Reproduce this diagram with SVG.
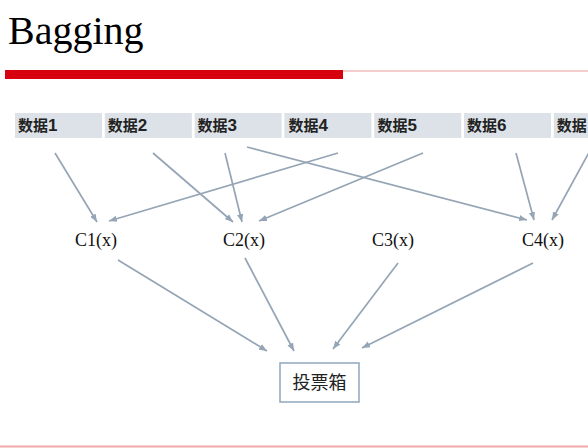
<svg xmlns="http://www.w3.org/2000/svg" width="588" height="448" viewBox="0 0 588 448">
<style>
.title{font-family:"Liberation Serif","Times New Roman",serif;font-size:40px;fill:#000}
.dbox{fill:#dde2e8}
.dtxt{font-family:"Noto Sans CJK SC","Liberation Sans",sans-serif;font-size:15px;font-weight:bold;fill:#222}
.dtxt tspan{font-family:"Liberation Sans",sans-serif;font-size:17px}
.clf{font-family:"Liberation Serif","Noto Sans CJK SC",serif;font-size:18px;fill:#111;text-anchor:middle}
.vote{fill:#fff;stroke:#8fa6bd;stroke-width:1.5}
.vtxt{font-family:"Noto Sans CJK SC",sans-serif;font-size:18px;fill:#222;text-anchor:middle}
.conn line{stroke:#95a5b5;stroke-width:1.7;marker-end:url(#ah)}
</style>
<defs>
<marker id="ah" markerUnits="userSpaceOnUse" viewBox="0 0 8 8" refX="8" refY="4" markerWidth="8" markerHeight="8" orient="auto">
<path d="M0,0.8 L8,4 L0,7.2 Z" fill="#95a5b5"/>
</marker>
</defs>
<rect width="588" height="448" fill="#fff"/>
<text class="title" x="8" y="44">Bagging</text>
<rect x="5" y="70" width="338" height="9" fill="#d7000f"/>
<line x1="343" y1="71" x2="588" y2="71" stroke="#e89a9a" stroke-width="1"/>
<line x1="0" y1="446.5" x2="588" y2="446.5" stroke="#f0a8a8" stroke-width="2"/>

<g id="d1"><rect class="dbox" x="15" y="113" width="87" height="25"/><text class="dtxt" x="18" y="131">数据<tspan>1</tspan></text></g>
<g id="d2"><rect class="dbox" x="104.8" y="113" width="87" height="25"/><text class="dtxt" x="107.8" y="131">数据<tspan>2</tspan></text></g>
<g id="d3"><rect class="dbox" x="194.6" y="113" width="87" height="25"/><text class="dtxt" x="197.6" y="131">数据<tspan>3</tspan></text></g>
<g id="d4"><rect class="dbox" x="284.4" y="113" width="87" height="25"/><text class="dtxt" x="288.4" y="131">数据<tspan>4</tspan></text></g>
<g id="d5"><rect class="dbox" x="374.2" y="113" width="87" height="25"/><text class="dtxt" x="377.6" y="131">数据<tspan>5</tspan></text></g>
<g id="d6"><rect class="dbox" x="464" y="113" width="87" height="25"/><text class="dtxt" x="467" y="131">数据<tspan>6</tspan></text></g>
<g id="d7"><rect class="dbox" x="553.8" y="113" width="87" height="25"/><text class="dtxt" x="556.8" y="131">数据</text></g>

<g id="c1"><text class="clf" x="96" y="246">C1(x)</text></g>
<g id="c2"><text class="clf" x="244" y="246">C2(x)</text></g>
<g id="c3"><text class="clf" x="393" y="246">C3(x)</text></g>
<g id="c4"><text class="clf" x="543" y="246">C4(x)</text></g>

<g id="box"><rect class="vote" x="280" y="363" width="79" height="39"/><text class="vtxt" x="319.5" y="389">投票箱</text></g>

<g class="conn">
<line x1="55" y1="153" x2="97" y2="222"/>
<line x1="153" y1="153" x2="233" y2="222"/>
<line x1="225" y1="153" x2="242" y2="222"/>
<line x1="247" y1="147" x2="527" y2="220"/>
<line x1="338" y1="153" x2="109" y2="221"/>
<line x1="423" y1="153" x2="259" y2="221"/>
<line x1="516" y1="153" x2="534" y2="220"/>
<line x1="592" y1="147" x2="552" y2="220"/>
<line x1="118" y1="260" x2="267" y2="351"/>
<line x1="245" y1="258" x2="294" y2="351"/>
<line x1="398" y1="263" x2="333" y2="349"/>
<line x1="533" y1="263" x2="362" y2="348"/>
</g>
</svg>
